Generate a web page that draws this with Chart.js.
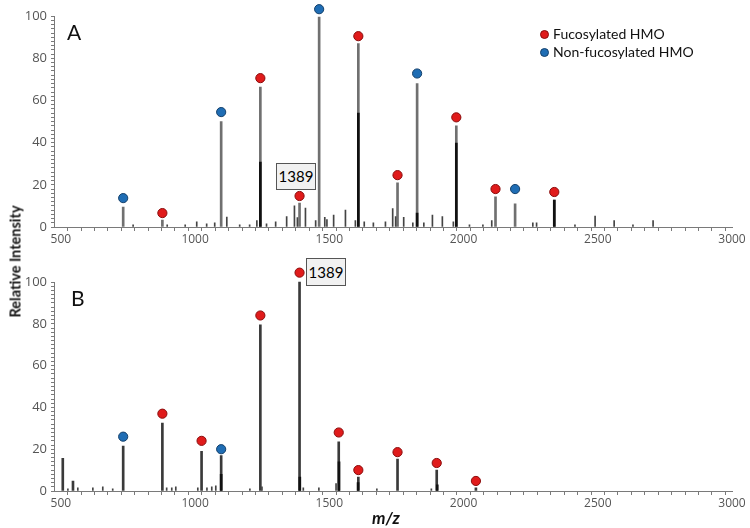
<!DOCTYPE html>
<html>
<head>
<meta charset="utf-8">
<script src="https://cdn.jsdelivr.net/npm/chart.js@4.4.1/dist/chart.umd.min.js"></script>
<style>
  body { margin: 0; background: #fff; }
  #wrap { position: relative; width: 750px; height: 528px; font-family: Lato, "Open Sans", sans-serif; }
  canvas { position: absolute; left: 0; }
  .txt { position: absolute; color: #111; white-space: nowrap; }
  .box { position: absolute; border: 1px solid #555; background: #f1f1f1; font-size: 15px; text-align: center; box-sizing: border-box; }
  .dot { display: inline-block; width: 9px; height: 9px; border-radius: 50%; box-sizing: border-box; margin-right: 4px; vertical-align: 0px; }
</style>
</head>
<body>
<div id="wrap">
  <canvas id="chartA" width="750" height="250" style="top:0"></canvas>
  <canvas id="chartB" width="750" height="248" style="top:266px"></canvas>
  <div class="txt" style="left:67px;top:19px;font-size:21px">A</div>
  <div class="txt" style="left:71px;top:285px;font-size:21px">B</div>
  <div class="txt" id="legend" style="left:540px;top:25px;font-size:14px;line-height:18px"></div>
  <div class="box" style="left:276px;top:163px;width:40px;height:27px;line-height:25px">1389</div>
  <div class="box" style="left:306px;top:258px;width:40px;height:28px;line-height:26px">1389</div>
  <div class="txt" style="left:-55px;top:253px;width:140px;text-align:center;font-size:14.5px;font-weight:bold;transform:rotate(-90deg)">Relative Intensity</div>
  <div class="txt" style="left:372px;top:507px;font-size:17px;font-weight:bold;font-style:italic">m/z</div>
</div>
<script>
// panel A (top)
var peakMzA = [732, 878, 1097, 1243, 1389, 1462, 1608, 1754, 1827, 1973, 2119, 2192, 2338];
var peakIntA = [9.5, 3.3, 50, 66.4, 11.4, 99.5, 87, 21, 68, 48, 14.3, 11, 12.8];
var coreMzA = [1243, 1608, 1827, 1973, 2338];
var coreIntA = [30.8, 54, 6.6, 39.8, 12.8];
var noiseMzA = [769, 896, 963, 1006, 1043, 1073, 1118, 1166, 1203, 1230, 1266, 1300, 1341, 1370, 1381, 1411, 1449, 1483, 1491, 1516, 1560, 1597, 1630, 1664, 1709, 1736, 1747, 1777, 1811, 1852, 1884, 1921, 1962, 2022, 2072, 2105, 2258, 2272, 2415, 2490, 2561, 2631, 2706];
var noiseIntA = [1, 1, 1, 2.5, 1.5, 2, 4.7, 1, 1, 3, 1.5, 2.5, 5, 10, 4.5, 9, 3, 4.6, 3.5, 5.7, 8, 3, 2.5, 2, 2.5, 8.7, 5, 4.6, 2, 2, 5.7, 5, 2.5, 1, 1, 3, 2, 2, 1, 5.2, 3, 1, 3];
var fucMzA = [878, 1243, 1389, 1608, 1754, 1973, 2119, 2338];
var fucDotA = [6.6, 70.6, 14.7, 90.5, 24.6, 52, 18, 16.6];
var nonMzA = [732, 1097, 1462, 1827, 2192];
var nonDotA = [13.7, 54.5, 103.3, 72.8, 18];

// panel B (bottom)
var peakMzB = [507, 545, 732, 878, 1024, 1097, 1243, 1389, 1535, 1608, 1754, 1900, 2046];
var peakIntB = [15.6, 4.8, 21.5, 32.5, 19, 17, 79.5, 100, 23.5, 6.7, 15.3, 10, 1.5];
var coreMzB = [1097, 1390, 1536, 1607, 1902];
var coreIntB = [8, 6.7, 14, 4, 3];
var noiseMzB = [526, 563, 619, 656, 693, 894, 913, 928, 1010, 1044, 1062, 1077, 1204, 1249, 1403, 1461, 1525, 1677, 1880];
var noiseIntB = [1, 1.5, 1.5, 2, 1, 1.5, 1.5, 2, 1.5, 1.5, 2, 2.5, 1, 2, 1.5, 1.5, 3.5, 1, 1];
var fucMzB = [878, 1024, 1243, 1389, 1535, 1608, 1754, 1900, 2046];
var fucDotB = [37, 24, 84, 104.5, 28, 10, 18.6, 13.4, 4.8];
var nonMzB = [732, 1097];
var nonDotB = [26, 20];

var seriesNames = ["Fucosylated HMO", "Non-fucosylated HMO"];
var seriesFill = ["#e01b1b", "#1f6db4"];
var seriesEdge = ["#8a0c0c", "#14406b"];

var xTickValues = [];
for (var v = 500; v <= 3000; v += 50) xTickValues.push(v);
var yTickValues = [];
for (var w = 0; w <= 100; w += 2) yTickValues.push(w);

var axisColor = "#7a7a7a";
var yTop = 105; // a little room above 100 so the top dots still get drawn

function toPoints(xs, ys) {
  return xs.map(function(x, i) {
    return { x: x, y: ys[i] };
  });
}

function stickSet(xs, ys, color, width, order) {
  return {
    type: "bar",
    data: toPoints(xs, ys),
    backgroundColor: color,
    barThickness: width,
    grouped: false,
    order: order
  };
}

function dotSet(xs, ys, k) {
  return {
    type: "scatter",
    label: seriesNames[k],
    data: toPoints(xs, ys),
    pointRadius: 4.6,
    pointBackgroundColor: seriesFill[k],
    pointBorderColor: seriesEdge[k],
    pointBorderWidth: 1,
    clip: false,
    order: 0
  };
}

// y axis line only from 0 to 100, like the original
var yAxisLine = {
  id: "yAxisLine",
  beforeDatasetsDraw: function(chart) {
    var y = chart.scales.y;
    var ctx = chart.ctx;
    ctx.save();
    ctx.strokeStyle = axisColor;
    ctx.lineWidth = 1;
    ctx.beginPath();
    ctx.moveTo(y.right - 0.5, y.getPixelForValue(100));
    ctx.lineTo(y.right - 0.5, y.getPixelForValue(0));
    ctx.stroke();
    ctx.restore();
  }
};

function makeChart(id) {
  var datasets = Array.prototype.slice.call(arguments, 1);
  return new Chart(document.getElementById(id).getContext("2d"), {
    type: "bar",
    data: { datasets: datasets },
    plugins: [yAxisLine],
    options: {
      responsive: false,
      animation: false,
      layout: { padding: { top: 0, right: 18, left: 0, bottom: 0 } },
      plugins: { legend: { display: false }, tooltip: { enabled: false } },
      scales: {
        x: {
          type: "linear",
          min: 478,
          max: 3000,
          offset: false,
          afterBuildTicks: function(s) {
            s.ticks = xTickValues.map(function(t) { return { value: t }; });
          },
          afterFit: function(s) {
            s.height = 23;
            s.paddingLeft = 0;
            s.paddingRight = 0;
          },
          border: { color: axisColor, width: 1 },
          grid: { drawOnChartArea: false, tickLength: 4, color: axisColor },
          ticks: {
            autoSkip: false,
            maxRotation: 0,
            padding: 1,
            color: "#555",
            font: { family: "'Open Sans'", size: 12 },
            callback: function(value) { return value % 500 === 0 ? value : ""; }
          }
        },
        y: {
          min: 0,
          max: yTop,
          afterBuildTicks: function(s) {
            s.ticks = yTickValues.map(function(t) { return { value: t }; });
          },
          afterFit: function(s) {
            s.width = 55;
            s.paddingTop = 0;
            s.paddingBottom = 0;
          },
          border: { display: false },
          grid: { drawOnChartArea: false, tickLength: 4, color: axisColor },
          ticks: {
            autoSkip: false,
            padding: 4,
            color: "#555",
            font: { family: "'Open Sans'", size: 13 },
            callback: function(value) { return value % 20 === 0 ? value : ""; }
          }
        }
      }
    }
  });
}

makeChart("chartA",
  dotSet(fucMzA, fucDotA, 0),
  dotSet(nonMzA, nonDotA, 1),
  stickSet(coreMzA, coreIntA, "#111", 2, 1),
  stickSet(noiseMzA, noiseIntA, "#444", 1, 2),
  stickSet(peakMzA, peakIntA, "#707070", 2, 3)
);

makeChart("chartB",
  dotSet(fucMzB, fucDotB, 0),
  dotSet(nonMzB, nonDotB, 1),
  stickSet(coreMzB, coreIntB, "#111", 2, 1),
  stickSet(noiseMzB, noiseIntB, "#444", 1, 2),
  stickSet(peakMzB, peakIntB, "#3a3a3a", 2, 3)
);

// legend, same colours as the dots
var legend = document.getElementById("legend");
seriesNames.forEach(function(name, k) {
  var row = document.createElement("div");
  var dot = document.createElement("span");
  dot.className = "dot";
  dot.style.background = seriesFill[k];
  dot.style.border = "1px solid " + seriesEdge[k];
  row.appendChild(dot);
  row.appendChild(document.createTextNode(name));
  legend.appendChild(row);
});
</script>
</body>
</html>
